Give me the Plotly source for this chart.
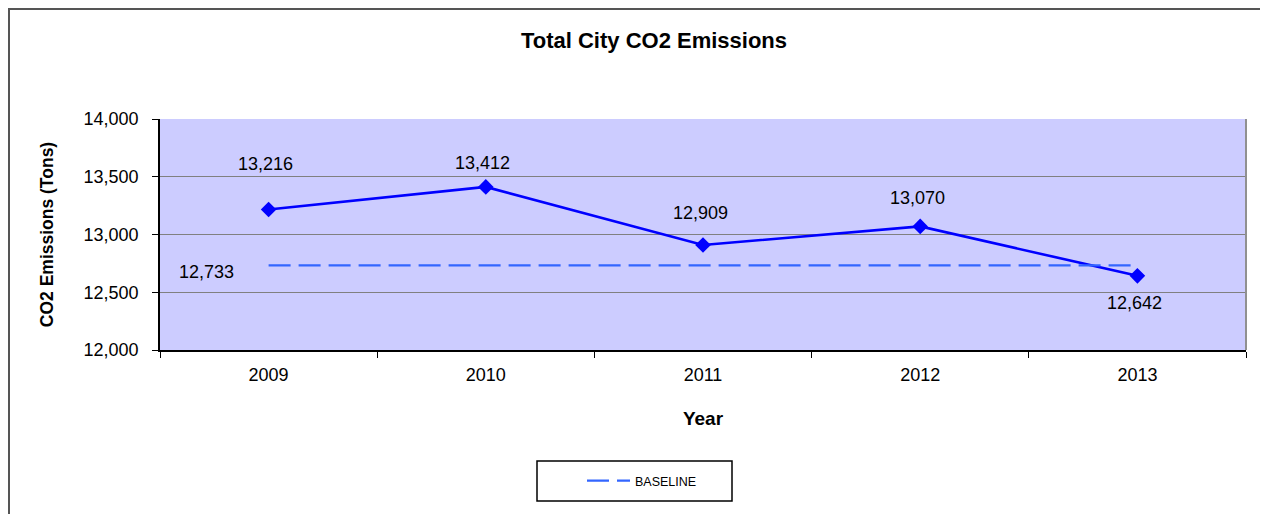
import plotly.graph_objects as go

years = ["2009", "2010", "2011", "2012", "2013"]
emissions = [13216, 13412, 12909, 13070, 12642]
baseline = [12733, 12733, 12733, 12733, 12733]

FONT = "Arial, Liberation Sans, sans-serif"
OFF = 8  # page body margin in the browser

W, H = 1268 - OFF, 514 - OFF
PL, PR, PT, PB = 160, 1246, 119, 350  # plot area in reference pixels


def px(xr):
    return (xr - PL) / (PR - PL)


def py(yr):
    return (PB - yr) / (PB - PT)


fig = go.Figure()
fig.add_trace(go.Scatter(
    x=years, y=emissions, mode="lines+markers",
    line=dict(color="#0000FF", width=2.6),
    marker=dict(symbol="diamond", size=12, color="#0000FF"),
    showlegend=False, name="Total",
))
fig.add_trace(go.Scatter(
    x=years, y=baseline, mode="lines",
    line=dict(color="#3366FF", width=2.2, dash="22px,8px"),
    name="BASELINE", showlegend=True,
))

# data labels
label_shift = [46, 24, 32, 28, -27]
for i, (v, s) in enumerate(zip(emissions, label_shift)):
    fig.add_annotation(x=i, y=v, xref="x", yref="y", text=f"{v:,}", showarrow=False,
                       yshift=s, xshift=-3, font=dict(family=FONT, size=18, color="#000000"))
fig.add_annotation(x=0, y=baseline[0], xref="x", yref="y", text=f"{baseline[0]:,}", showarrow=False,
                   xshift=-62, yshift=-7, font=dict(family=FONT, size=18, color="#000000"))

# outer border (as close to the page corner as the page margin allows)
fig.add_shape(type="rect", xref="paper", yref="paper",
              x0=px(9), x1=px(1300), y0=py(540), y1=py(9),
              line=dict(color="#555555", width=2), layer="below")
# plot right border
fig.add_shape(type="line", xref="paper", yref="paper", x0=1, x1=1, y0=0, y1=1,
              line=dict(color="#909090", width=2))
# legend box
fig.add_shape(type="rect", xref="paper", yref="paper",
              x0=px(537), x1=px(732), y0=py(501), y1=py(461),
              line=dict(color="#000000", width=1.5))

fig.update_layout(
    width=W, height=H,
    margin=dict(l=PL - OFF, r=W - (PR - OFF), t=PT - OFF, b=H - (PB - OFF)),
    paper_bgcolor="white", plot_bgcolor="#CCCCFF",
    title=dict(text="<b>Total City CO2 Emissions</b>", x=(654 - OFF) / W, xanchor="center",
               y=1 - (40 - OFF) / H, yanchor="middle",
               font=dict(family=FONT, size=22, color="#000000")),
    font=dict(family=FONT, size=18, color="#000000"),
    legend=dict(x=px(582), xanchor="left", y=py(481), yanchor="middle",
                bgcolor="rgba(0,0,0,0)", borderwidth=0, itemwidth=43,
                font=dict(family=FONT, size=12.5, color="#000000")),
    showlegend=True,
)
fig.update_xaxes(
    type="category", range=[-0.5, 4.5], tickson="boundaries",
    ticks="outside", ticklen=6, tickcolor="#000000",
    showline=True, linecolor="#000000", linewidth=1.5, showgrid=False,
    tickfont=dict(family=FONT, size=18), ticklabelstandoff=8,
    title=dict(text="<b>Year</b>", font=dict(family=FONT, size=19), standoff=27),
)
fig.update_yaxes(
    range=[12000, 14000], dtick=500, tickformat=",",
    ticks="outside", ticklen=6, tickcolor="#000000",
    showline=True, linecolor="#000000", linewidth=1.5,
    showgrid=True, gridcolor="#808080", gridwidth=1,
    tickfont=dict(family=FONT, size=18), ticklabelstandoff=10,
    title=dict(text="<b>CO2 Emissions (Tons)</b>", font=dict(family=FONT, size=17.5), standoff=25),
    zeroline=False,
)

fig.write_html("out.html")
